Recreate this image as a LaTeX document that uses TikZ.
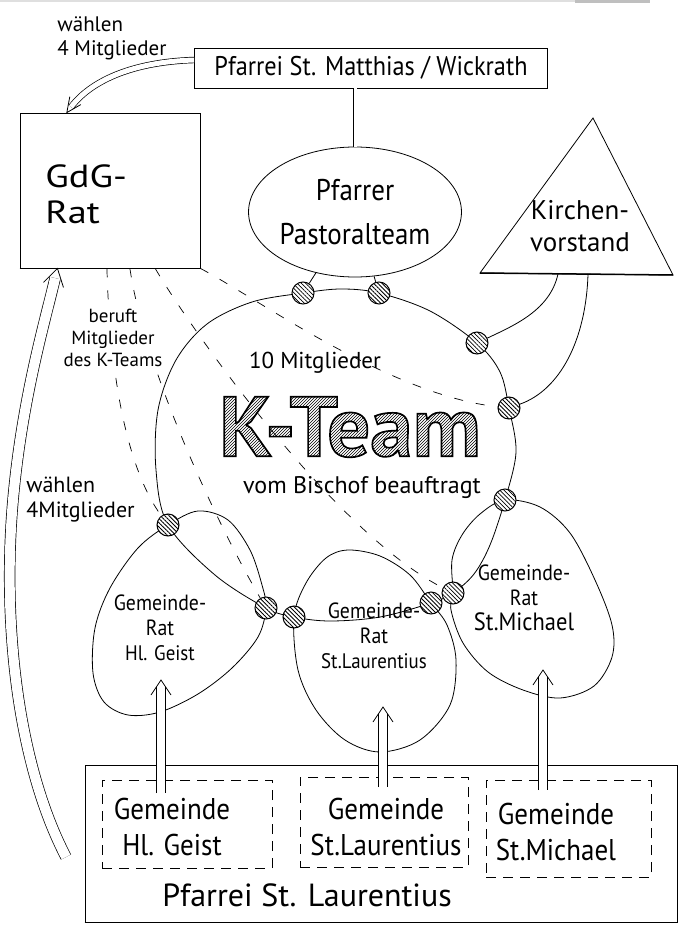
\documentclass[tikz,border=0pt]{standalone}
\usepackage{fontspec}
\setmainfont{PT Sans}
\newfontfamily\hn{PT Sans}[FakeStretch=0.9]
\newfontfamily\hw{PT Sans}[FakeStretch=1.2]
\newfontfamily\kfont{PT Sans}[FakeBold=2]
\usetikzlibrary{arrows.meta,patterns,patterns.meta,calc,shapes.geometric}
\begin{document}
\begin{tikzpicture}[x=1pt,y=-1pt,line width=0.8pt,
  lbl/.style={inner sep=1pt, align=center},
  frame/.style={draw, inner sep=0pt},
  dbl/.style={double, double distance=#1, line width=0.7pt},
  dbl/.default=6pt,
  hdot/.style={circle, draw, line width=1pt, minimum size=22pt, inner sep=0pt, preaction={fill=white}, pattern={Lines[angle=-45, distance=3pt, line width=0.8pt]}},
  dsh/.style={dash pattern=on 9pt off 13pt, line width=0.7pt},
  dbox/.style={draw, dash pattern=on 10pt off 7pt, line width=0.7pt, inner sep=0pt},
]
\useasboundingbox (0,0) rectangle (683,928);
% scan edge
\draw[gray!25, line width=2pt] (0,1) -- (650,1);
\draw[gray!50, line width=3pt] (575,1.5) -- (650,1.5);

% ---- boxes and shapes
\node[frame, minimum width=353pt, minimum height=40pt, font=\hn\fontsize{27}{30}\selectfont] (pm) at (371,68) {Pfarrei St. Matthias / Wickrath};
\node[frame, minimum width=180pt, minimum height=155pt] (gdg) at (110,190.5) {};
\draw[line width=1.5pt] (gdg.south west) -- (gdg.south east);
\node[lbl, anchor=north west, align=left, font=\hw\fontsize{32}{36}\selectfont] (gdgt) at (44,163) {GdG-\\Rat};
\node[draw, ellipse, minimum width=198pt, minimum height=130pt, inner sep=0pt, align=center, font=\hn\fontsize{30}{32}\selectfont] (pf) at (355,212) {Pfarrer\\[12pt]Pastoralteam};

\coordinate (kvA) at (593,118);
\coordinate (kvR) at (673,275);
\coordinate (kvL) at (480,273);
\draw (kvA) -- (kvR) -- (kvL) -- cycle;
\draw[line width=1.5pt] (kvL) -- (kvR);
\node[lbl, font=\fontsize{27}{32}\selectfont] (kvt) at (580,226) {Kirchen-\\vorstand};
\coordinate (kv1) at (558,274);
\coordinate (kv2) at (588,274);

% K-Team outline
\draw plot[smooth cycle, tension=0.55] coordinates {(303,293) (341,289) (379,293) (430,311) (477,343) (500,372) (509,408) (516,452) (505,500) (490,545) (474,574) (453,593) (431,603) (380,617) (330,621) (294,617) (266,608) (215,575) (168,525) (156,470) (158,410) (176,360) (207,324) (252,302)};
% Gemeinderat eggs
\draw plot[smooth cycle, tension=0.55] coordinates {(168,525) (198,511) (228,520) (250,550) (262,585) (266,608) (258,637) (232,668) (198,694) (160,712) (128,715) (104,702) (93,673) (95,628) (110,588) (138,548)};
\draw plot[smooth cycle, tension=0.55] coordinates {(294,617) (306,583) (326,558) (348,550) (380,556) (410,575) (431,603) (447,625) (456,660) (450,705) (420,740) (380,752) (345,740) (316,710) (298,670)};
\draw plot[smooth cycle, tension=0.55] coordinates {(505,500) (540,507) (570,533) (595,580) (612,625) (612,657) (594,686) (560,698) (523,690) (488,672) (463,643) (451,610) (453,593) (452,560) (462,535) (480,514)};

% bottom boxes
\node[frame, minimum width=592pt, minimum height=157pt] (plb) at (381,843.5) {};
\draw[line width=1.6pt] (plb.south west) -- (plb.south east);
\node[dbox, minimum width=170pt, minimum height=88pt] (g1) at (187,824) {};
\node[dbox, minimum width=168pt, minimum height=90pt] (g2) at (384,822) {};
\node[dbox, minimum width=165pt, minimum height=97pt] (g3) at (568.5,828.5) {};

% dots (10 members)
\node[hdot] (d1) at (303,293) {};
\node[hdot] (d2) at (379,293) {};
\node[hdot] (d3) at (477,343) {};
\node[hdot] (d4) at (509,408) {};
\node[hdot] (d5) at (505,500) {};
\node[hdot] (d6) at (168,525) {};
\node[hdot] (d7) at (266,608) {};
\node[hdot] (d8) at (294,617) {};
\node[hdot] (d9) at (431,603) {};
\node[hdot] (d10) at (453,593) {};

% connectors
\draw[dbl=3pt] (pm.south -| pf.north) -- (pf.north);
\draw (pf) -- (d1);
\draw (pf) -- (d2);
\draw (kv1) .. controls (550,310) and (515,325) .. (d3);
\draw (kv2) .. controls (586,340) and (560,390) .. (d4);

% top arrow: Pfarrei St. Matthias -> GdG-Rat
\draw[dbl=5pt, shorten >=7pt] ($(pm.west)+(0,-8)$) .. controls (130,62) and (90,82) .. (gdg.119);
\draw ($(gdg.119)+(14,-8)$) -- (gdg.119) -- ($(gdg.119)+(3,-16)$);
% left arrow: Pfarrei St. Laurentius -> GdG-Rat
\coordinate (lt) at (66,857);
\draw[dbl=10pt, shorten >=10pt] (lt) .. controls (18,765) and (2,625) .. (13,500) .. controls (22,400) and (44,325) .. (gdg.236);
\draw ($(gdg.236)+(-14,14)$) -- (gdg.236) -- ($(gdg.236)+(6,19)$);

% Gemeinde -> Gemeinderat arrows
\coordinate (a1s) at (161,793); \coordinate (a1e) at (161,680);
\coordinate (a2s) at (383,787); \coordinate (a2e) at (383,707);
\coordinate (a3s) at (543,790); \coordinate (a3e) at (543,670);
\draw[dbl=8pt, shorten >=7pt] (a1s) -- (a1e);
\draw ($(a1e)+(-10,15)$) -- (a1e) -- ($(a1e)+(10,15)$);
\draw[dbl=8pt, shorten >=7pt] (a2s) -- (a2e);
\draw ($(a2e)+(-10,15)$) -- (a2e) -- ($(a2e)+(10,15)$);
\draw[dbl=8pt, shorten >=7pt] (a3s) -- (a3e);
\draw ($(a3e)+(-10,15)$) -- (a3e) -- ($(a3e)+(10,15)$);

% GdG-Rat beruft Mitglieder (dashed)
\draw[dsh] ($(gdg.south west)!0.483!(gdg.south east)$) .. controls (110,380) and (128,470) .. (d6);
\draw[dsh] ($(gdg.south west)!0.61!(gdg.south east)$) .. controls (145,370) and (215,520) .. (d7);
\draw[dsh] ($(gdg.south west)!0.75!(gdg.south east)$) .. controls (185,320) and (330,530) .. (d10);
\draw[dsh] (gdg.south east) .. controls (260,300) and (390,395) .. (d4);

% labels
\node[lbl, fill=white, inner sep=2pt, font=\fontsize{19}{22}\selectfont] (ber) at (113,338) {beruft\\Mitglieder\\des K-Teams};
\node[lbl, anchor=west, align=left, font=\fontsize{21}{24}\selectfont] (w1) at (56,38) {wählen\\4 Mitglieder};
\node[lbl, anchor=west, align=left, font=\fontsize{22}{25}\selectfont] (w2) at (25,500) {wählen\\4Mitglieder};
\node[lbl, font=\fontsize{23}{28}\selectfont] (zm) at (315,363) {10 Mitglieder};
\node[inner sep=0pt, font=\kfont\bfseries\fontsize{85}{85}\selectfont] (kt) at (350,427) {\begin{pgfscope}\pgfsetfillpattern{north east lines}{black}K-Team\end{pgfscope}};
\node[lbl, font=\fontsize{24}{26}\selectfont] (vb) at (362,488) {vom Bischof beauftragt};

\node[lbl, font=\hn\fontsize{22}{25}\selectfont] (t1) at (160,628) {Gemeinde-\\Rat\\{\fontsize{21}{24}\selectfont Hl. Geist}};
\node[lbl, font=\hn\fontsize{22}{25}\selectfont] (t2) at (374,636) {Gemeinde-\\Rat\\{\fontsize{21}{24}\selectfont St.Laurentius}};
\node[lbl, font=\hn\fontsize{22}{25}\selectfont] (t3) at (524,598) {Gemeinde-\\Rat\\{\fontsize{25}{26}\selectfont St.Michael}};

\node[lbl, font=\hn\fontsize{30}{36}\selectfont] (tb1) at (172,827) {Gemeinde\\Hl. Geist};
\node[lbl, font=\hn\fontsize{30}{36}\selectfont] (tb2) at (386,827) {Gemeinde\\St.Laurentius};
\node[lbl, font=\hn\fontsize{30}{36}\selectfont] (tb3) at (556,832) {Gemeinde\\St.Michael};
\node[lbl, font=\fontsize{32}{36}\selectfont] (tpl) at (307,895) {Pfarrei St. Laurentius};
\end{tikzpicture}
\end{document}
